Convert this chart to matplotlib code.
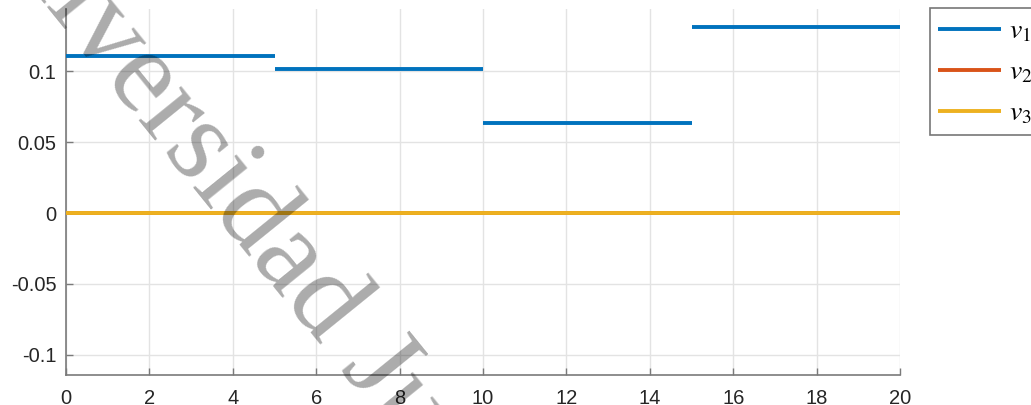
"""Piecewise-constant velocity components over time."""

import matplotlib.pyplot as plt

plt.rcParams["mathtext.fontset"] = "stix"

# segment boundaries (s) and the v1 level held on each segment
seg_start = [0, 5, 10, 15]
seg_end = [5, 10, 15, 20]
v1_levels = [0.1106, 0.1014, 0.0634, 0.1310]
v2_levels = [0.0, 0.0, 0.0, 0.0]
v3_levels = [0.0, 0.0, 0.0, 0.0]

x_ticks = [0, 2, 4, 6, 8, 10, 12, 14, 16, 18, 20]
y_ticks = [-0.1, -0.05, 0, 0.05, 0.1]
y_tick_labels = ["-0.1", "-0.05", "0", "0.05", "0.1"]

COLORS = ["#0072BD", "#D95319", "#EDB120"]


def main() -> None:
    fig = plt.figure(figsize=(10.31, 4.05), dpi=100)
    ax = fig.add_axes([0.064, 0.0741, 0.809, 0.9037])

    series = [
        (v1_levels, r"$v_1$"),
        (v2_levels, r"$v_2$"),
        (v3_levels, r"$v_3$"),
    ]
    handles = []
    for (levels, label), color in zip(series, COLORS):
        h = ax.hlines(levels, seg_start, seg_end, colors=color, linewidth=2.8, label=label, zorder=3)
        handles.append(h)

    ax.set_xlim(0, 20)
    ax.set_ylim(-0.1141, 0.1437)
    ax.set_xticks(x_ticks)
    ax.set_yticks(y_ticks)
    ax.set_yticklabels(y_tick_labels)
    ax.grid(True, color="#e3e3e3", linewidth=1)
    ax.set_axisbelow(True)
    for side in ("top", "right"):
        ax.spines[side].set_visible(False)
    for side in ("left", "bottom"):
        ax.spines[side].set_color("#7a7a7a")
        ax.spines[side].set_linewidth(1.2)
    ax.tick_params(direction="in", length=5, width=1, color="#7a7a7a", labelsize=14.5,
                   labelcolor="#262626")
    ax.tick_params(axis="x", pad=10)
    ax.tick_params(axis="y", pad=7)
    for lab in ax.get_xticklabels() + ax.get_yticklabels():
        lab.set_fontfamily("Liberation Sans")

    leg = fig.legend(
        handles=handles,
        loc="upper left",
        bbox_to_anchor=(930 / 1031, 1 - 8 / 405),
        fontsize=20,
        frameon=True,
        fancybox=False,
        handlelength=2.25,
        handletextpad=0.3,
        labelspacing=0.47,
        borderpad=0.3,
        borderaxespad=0,
    )
    leg.get_frame().set_edgecolor("#555555")
    leg.get_frame().set_linewidth(1.2)
    for line in leg.get_lines():
        line.set_linewidth(2.8)

    fig.text(
        -0.046, 1.267, "Universidad Juárez",
        rotation=-51, rotation_mode="anchor", ha="left", va="baseline",
        fontsize=86, fontfamily="Liberation Serif", color="black", alpha=0.33,
        zorder=10,
    )

    fig.savefig("out.png", dpi=100)
    plt.close(fig)


if __name__ == "__main__":
    main()
